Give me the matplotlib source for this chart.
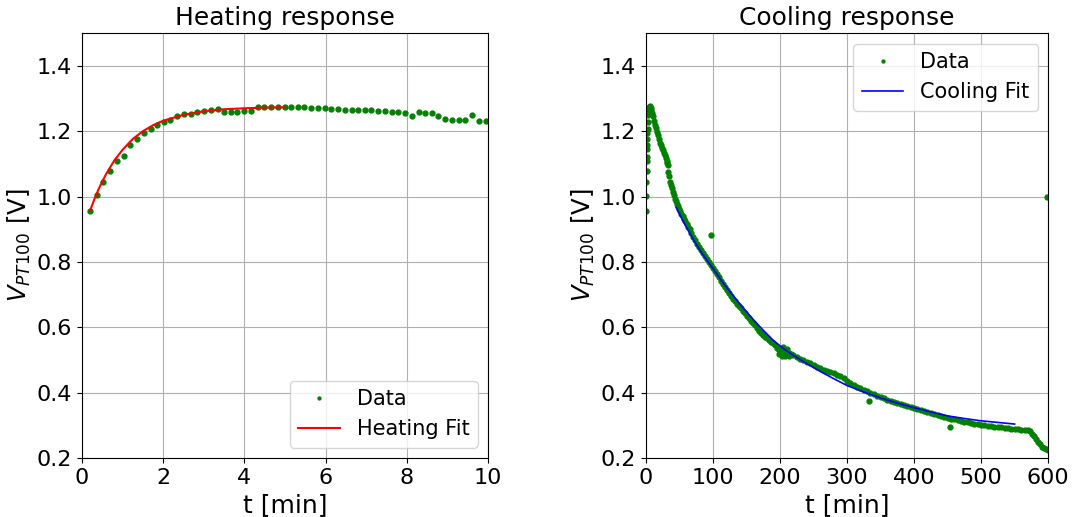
#!/usr/bin/env python

import matplotlib.pyplot as plt
import numpy as np

# heating run, sampled every ~10 s
t_heat = [0.20, 0.37, 0.53, 0.70, 0.86, 1.03, 1.19, 1.36, 1.52, 1.69,
          1.85, 2.02, 2.18, 2.35, 2.51, 2.68, 2.84, 3.01, 3.17, 3.34,
          3.50, 3.67, 3.83, 4.00, 4.16, 4.33, 4.49, 4.66, 4.82, 4.99,
          5.15, 5.32, 5.48, 5.65, 5.81, 5.98, 6.14, 6.31, 6.47, 6.64,
          6.80, 6.97, 7.13, 7.30, 7.46, 7.63, 7.79, 7.96, 8.12, 8.29,
          8.45, 8.62, 8.78, 8.95, 9.11, 9.28, 9.44, 9.61, 9.77, 9.94]
v_heat = [0.957, 1.005, 1.045, 1.078, 1.109, 1.125, 1.158, 1.175, 1.194, 1.207,
          1.218, 1.227, 1.235, 1.245, 1.251, 1.254, 1.259, 1.261, 1.266, 1.268,
          1.258, 1.258, 1.258, 1.261, 1.261, 1.274, 1.274, 1.274, 1.274, 1.274,
          1.274, 1.274, 1.274, 1.271, 1.271, 1.271, 1.269, 1.269, 1.266, 1.266,
          1.264, 1.264, 1.264, 1.262, 1.261, 1.259, 1.259, 1.257, 1.247, 1.258,
          1.255, 1.255, 1.247, 1.238, 1.235, 1.234, 1.234, 1.248, 1.232, 1.232]

t_heat_fit = [0.2, 0.3, 0.4, 0.5, 0.6, 0.8, 1.0, 1.25, 1.5, 1.75,
              2.0, 2.5, 3.0, 3.5, 4.0, 4.5, 5.0]
v_heat_fit = [0.957, 0.990, 1.020, 1.046, 1.070, 1.111, 1.143, 1.176, 1.200, 1.218,
              1.232, 1.250, 1.261, 1.267, 1.270, 1.272, 1.273]

# cooling run
t_cool = [0, 0.3, 0.6, 0.9, 1.2, 1.4, 1.6, 1.8, 2.0, 2.3, 2.6, 3.0, 3.5, 4.0, 4.5,
          5.0, 5.5, 6.0, 7.0, 8.0,
          9, 10, 11.5, 13, 14.5, 16, 17.5, 19, 20.5, 22, 23.5, 25, 26.5, 28, 29.5,
          31, 32, 33, 33.5, 34.5, 36, 37.5, 39, 40.5, 42, 43.5, 45, 46.5, 48, 49.5,
          51, 53, 55, 57, 59, 61, 63, 65,
          67, 70, 73, 76, 79, 82, 85, 88, 91, 94, 97, 100, 103, 106, 109, 112, 115,
          118, 121, 124, 127, 130, 133, 136, 139, 142, 145, 148, 151, 154, 157, 160,
          163, 166, 169, 172, 175, 178, 181, 184, 187, 190, 193, 196, 199, 202, 205,
          208, 211, 214, 217, 220,
          198, 203, 208, 213, 205, 210,
          225, 230, 235, 240, 245, 250, 255, 260, 265, 270, 275, 280, 285, 290, 295,
          300, 305, 310, 315, 320, 325, 330, 335, 340, 345, 350, 355, 360, 365, 370,
          375, 380, 385, 390, 395, 400, 405, 410, 415, 420, 425, 430, 435, 440, 445,
          450, 455, 460, 465, 470, 475, 480, 485, 490, 495, 500, 505, 510, 515, 520,
          525, 530, 535, 540, 545, 550, 555, 560, 565, 570,
          573, 576, 579, 582, 585, 588, 591, 594, 597, 600,
          96.8, 332.5, 453.5, 598]
v_cool = [0.956, 1.002, 1.043, 1.079, 1.110, 1.121, 1.146, 1.159, 1.177, 1.193,
          1.208, 1.229, 1.249, 1.265, 1.270, 1.274, 1.276, 1.275, 1.272, 1.266,
          1.256, 1.245, 1.230, 1.220, 1.209, 1.198, 1.187, 1.176, 1.165, 1.157,
          1.149, 1.141, 1.133, 1.126, 1.118, 1.110, 1.103, 1.095, 1.075, 1.062,
          1.045, 1.035, 1.025, 1.015, 1.005, 0.994, 0.985, 0.977, 0.970, 0.963,
          0.956, 0.948, 0.940, 0.932, 0.924, 0.916, 0.908, 0.900,
          0.887, 0.876, 0.866, 0.856, 0.846, 0.836, 0.826, 0.817, 0.808, 0.800,
          0.791, 0.782, 0.772, 0.763, 0.753, 0.743, 0.733, 0.722, 0.713, 0.704,
          0.697, 0.688, 0.680, 0.672, 0.665, 0.658, 0.650, 0.643, 0.636, 0.628,
          0.620, 0.613, 0.606, 0.598, 0.590, 0.583, 0.577, 0.571, 0.566, 0.561,
          0.556, 0.551, 0.545, 0.538, 0.532, 0.528, 0.526, 0.524, 0.522, 0.520,
          0.517, 0.514,
          0.518, 0.512, 0.511, 0.513, 0.540, 0.535,
          0.510, 0.504, 0.500, 0.495, 0.490, 0.485, 0.479, 0.474, 0.470, 0.466,
          0.462, 0.459, 0.455, 0.450, 0.444, 0.437, 0.430, 0.424, 0.418, 0.413,
          0.409, 0.404, 0.400, 0.396, 0.391, 0.387, 0.383, 0.379, 0.375, 0.372,
          0.368, 0.365, 0.362, 0.359, 0.356, 0.353, 0.350, 0.347, 0.343, 0.340,
          0.337, 0.334, 0.331, 0.328, 0.326, 0.323, 0.320, 0.318, 0.316, 0.313,
          0.311, 0.309, 0.307, 0.305, 0.304, 0.302, 0.301, 0.299, 0.298, 0.296,
          0.295, 0.294, 0.292, 0.291, 0.290, 0.289, 0.288, 0.287, 0.286, 0.285,
          0.283, 0.275, 0.266, 0.257, 0.249, 0.242, 0.235, 0.230, 0.227, 0.224,
          0.881, 0.375, 0.296, 1.000]

t_cool_fit = [45, 55, 65, 75, 85, 100, 115, 130, 145, 160, 175, 190, 205, 220,
              240, 260, 280, 300, 325, 350, 375, 400, 425, 450, 475, 500, 525, 550]
v_cool_fit = [0.967, 0.927, 0.889, 0.854, 0.822, 0.780, 0.736, 0.697, 0.659, 0.624,
              0.591, 0.560, 0.535, 0.514, 0.489, 0.465, 0.443, 0.422, 0.402, 0.384,
              0.368, 0.354, 0.341, 0.329, 0.321, 0.314, 0.309, 0.304]

fig, (ax1, ax2) = plt.subplots(1, 2, figsize=(10.73, 5.17), dpi=100)
ax1.set_position([0.0764, 0.114, 0.3784, 0.822])
ax2.set_position([0.602, 0.114, 0.3748, 0.822])

ax1.plot(t_heat, v_heat, "g.", markersize=7, label="Data")
ax1.plot(t_heat_fit, v_heat_fit, "r-", linewidth=1.5, label="Heating Fit")
ax1.set_xlim(0, 10)
ax1.set_ylim(0.2, 1.5)
ax1.set_xticks([0, 2, 4, 6, 8, 10])
ax1.set_yticks([0.2, 0.4, 0.6, 0.8, 1.0, 1.2, 1.4])
ax1.grid(True)
ax1.set_xlabel("t [min]", fontsize=18)
ax1.set_ylabel("$V_{PT100}$ [V]", fontsize=17.5, labelpad=3)
ax1.set_title("Heating response", fontsize=18)
ax1.tick_params(labelsize=16)
ax1.legend(loc="lower right", fontsize=15, markerscale=0.6)

ax2.plot(t_cool, v_cool, "g.", markersize=7, label="Data")
ax2.plot(t_cool_fit, v_cool_fit, "b-", linewidth=1.2, label="Cooling Fit")
ax2.set_xlim(0, 600)
ax2.set_ylim(0.2, 1.5)
ax2.set_xticks([0, 100, 200, 300, 400, 500, 600])
ax2.set_yticks([0.2, 0.4, 0.6, 0.8, 1.0, 1.2, 1.4])
ax2.grid(True)
ax2.set_xlabel("t [min]", fontsize=18)
ax2.set_ylabel("$V_{PT100}$ [V]", fontsize=17.5, labelpad=3)
ax2.set_title("Cooling response", fontsize=18)
ax2.tick_params(labelsize=16)
ax2.legend(loc="upper right", fontsize=15, markerscale=0.6)

fig.savefig("out.png")
